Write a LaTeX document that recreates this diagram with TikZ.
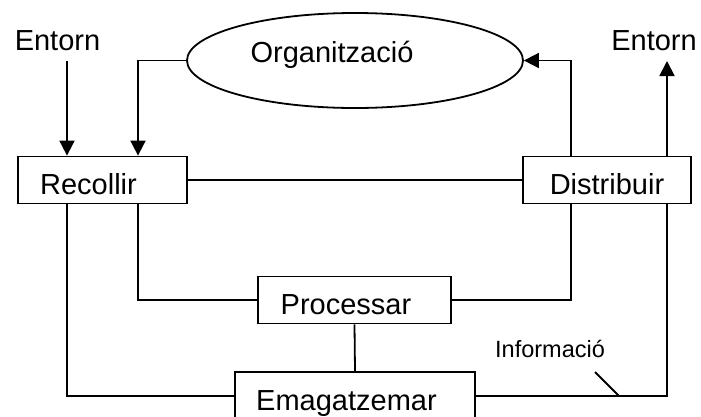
\documentclass[tikz,border=0pt]{standalone}
\usepackage{fontspec}
\setmainfont{Liberation Sans}
\usetikzlibrary{shapes.geometric,arrows.meta}
\newcommand{\padr}[1]{\hspace{#1}\mbox{}}
\begin{document}
\begin{tikzpicture}[x=1pt,y=-1pt,line width=1.8pt,
  font=\fontsize{29}{34}\selectfont,
  box/.style={draw,rectangle,inner sep=0pt,minimum height=47pt,text height=29pt,text depth=0pt},
  lbl/.style={anchor=base,inner sep=0pt},
  arr/.style={-{Triangle[length=15pt,width=15pt]}}]
\useasboundingbox (0,0) rectangle (701,416);
\clip (0,0) rectangle (701,416);
% nodes
\node[draw,ellipse,minimum width=336pt,minimum height=95pt,inner sep=0pt,
      text height=20pt,text depth=17pt] (org) at (355,60.5) {Organització\padr{46pt}};
\node[lbl] (entl) at (57.5,50) {Entorn};
\node[lbl] (entr) at (654,50) {Entorn};
\node[box,minimum width=169pt] (rec) at (102.5,180) {Recollir\padr{28pt}};
\node[box,minimum width=168pt] (dis) at (607,180) {Distribuir};
\node[box,minimum width=193pt] (pro) at (354.5,300) {Processar\padr{17pt}};
\node[box,minimum width=240pt,minimum height=48pt] (ema) at (355,396) {Emagatzemar\padr{17pt}};
\node[lbl,font=\fontsize{23.5}{28}\selectfont] (inf) at (550,357) {Informació};
% coordinates
\coordinate (a1) at (67,61);
\coordinate (a2) at (138,60.5);
\coordinate (b1) at (571,60.5);
\coordinate (c1) at (138,300);
\coordinate (c2) at (571,300);
\coordinate (d1) at (67,396);
\coordinate (d2) at (667,396);
\coordinate (s1) at (595,372);
\coordinate (s2) at (619,396);
% connectors
\draw[arr] (a1) -- (a1 |- rec.north);
\draw[arr] (org.west) -- (a2) -- (a2 |- rec.north);
\draw (rec.east) -- (dis.east -| dis.west);
\draw[arr] (b1 |- dis.north) -- (b1) -- (org.east);
\draw[arr] (667,0 |- dis.north) -- (667,61);
\draw (c1 |- rec.south) -- (c1) -- (pro.west);
\draw (c2 |- dis.south) -- (c2) -- (pro.east);
\draw (pro.south) -- (ema.north);
\draw (a1 |- rec.south) -- (d1) -- (ema.west);
\draw (ema.east) -- (d2) -- (d2 |- dis.south);
\draw (s1) -- (s2);
\end{tikzpicture}
\end{document}
